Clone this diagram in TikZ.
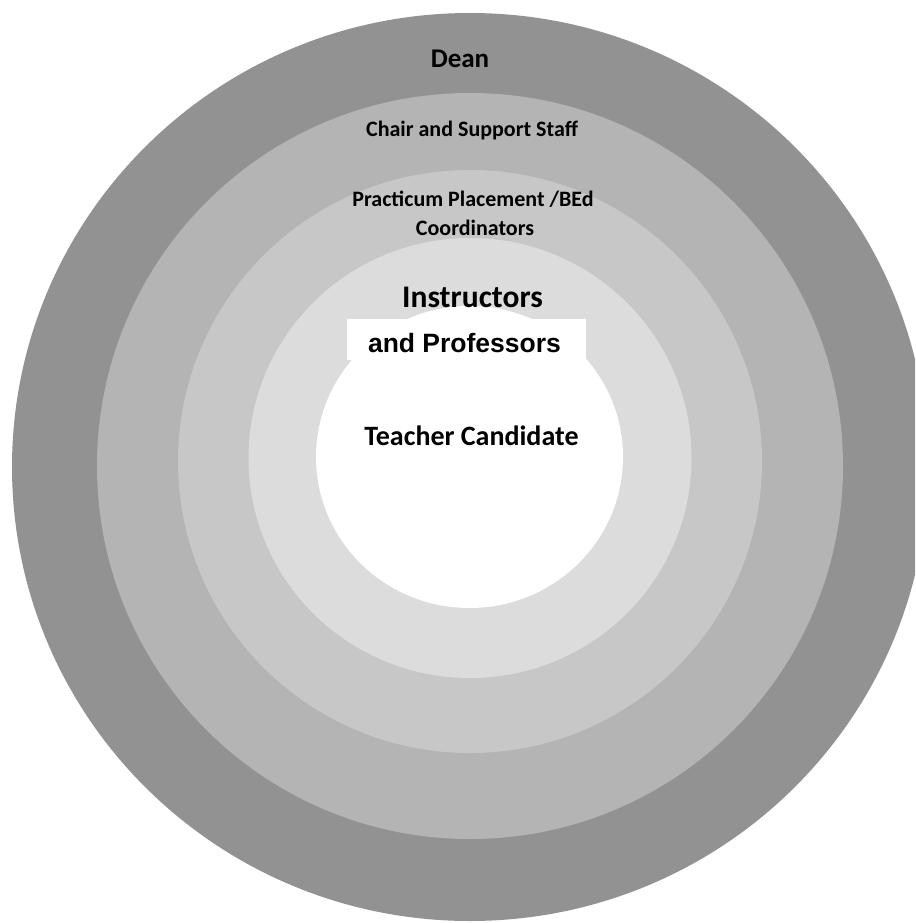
\documentclass[tikz,border=0pt]{standalone}
\usepackage{fontspec}
\setmainfont{Carlito}
\newfontfamily\arialfont{Liberation Sans}
\definecolor{ringA}{RGB}{146,146,146}
\definecolor{ringB}{RGB}{180,180,180}
\definecolor{ringC}{RGB}{199,199,199}
\definecolor{ringD}{RGB}{220,220,220}
\begin{document}
\begin{tikzpicture}[x=1pt,y=-1pt,
  lbl/.style={anchor=base, inner sep=0pt, text=black},
  fsA/.style={font=\bfseries\fontsize{27}{30}\selectfont},
  fsB/.style={font=\bfseries\fontsize{22}{26}\selectfont},
  fsC/.style={font=\bfseries\fontsize{31.5}{34}\selectfont},
  fsD/.style={font=\arialfont\bfseries\fontsize{26.5}{30}\selectfont},
  fsE/.style={font=\bfseries\fontsize{28}{32}\selectfont}]
\useasboundingbox (0,0) rectangle (915,923);
\clip (0,0) rectangle (915,923);
\fill[white] (0,0) rectangle (915,923);
\fill[ringA] (470,467) ellipse [x radius=458, y radius=454];
\fill[ringB] (470,466) ellipse [x radius=373, y radius=373];
\fill[ringC] (470,461.5) ellipse [x radius=292, y radius=291.5];
\fill[ringD] (470,458) ellipse [x radius=221.5, y radius=220];
\fill[white] (469.5,457) ellipse [x radius=153.5, y radius=151];
\fill[white] (347,319) rectangle (586,360);
\node[lbl,fsA] (dean) at (460,68) {Dean};
\node[lbl,fsB] (chair) at (472,136) {Chair and Support Staff};
\node[lbl,fsB] (pract) at (473,206) {Practicum Placement /BEd};
\node[lbl,fsB] (coord) at (475,235) {Coordinators};
\node[lbl,fsC] (instr) at (472.5,307) {Instructors};
\node[lbl,fsD] (prof) at (464.5,352) {and Professors};
\node[lbl,fsE] (teach) at (471.5,445) {Teacher Candidate};
\end{tikzpicture}
\end{document}
